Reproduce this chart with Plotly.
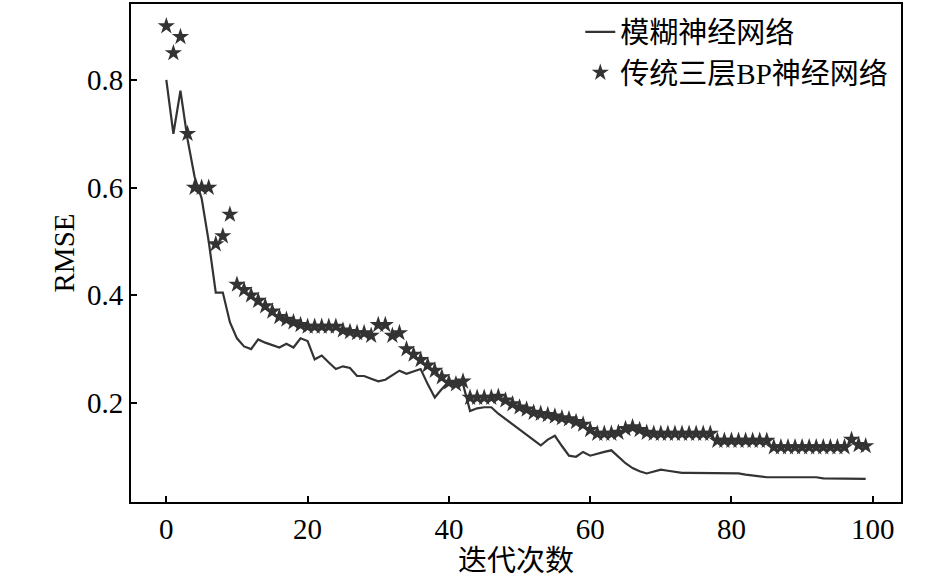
import plotly.graph_objects as go

# iteration index
iters = list(range(100))

# RMSE of fuzzy neural network (line)
fuzzy_rmse = [
    0.800, 0.700, 0.780, 0.690, 0.620, 0.580, 0.500, 0.405, 0.405, 0.350,
    0.320, 0.305, 0.300, 0.318, 0.312, 0.308, 0.303, 0.310, 0.303, 0.320,
    0.315, 0.281, 0.288, 0.275, 0.263, 0.268, 0.265, 0.250, 0.250, 0.245,
    0.240, 0.243, 0.252, 0.260, 0.254, 0.258, 0.263, 0.235, 0.210, 0.226,
    0.240, 0.240, 0.235, 0.185, 0.190, 0.192, 0.192, 0.180, 0.170, 0.160,
    0.150, 0.140, 0.130, 0.121, 0.132, 0.139, 0.120, 0.102, 0.100, 0.109,
    0.102, 0.106, 0.109, 0.112, 0.100, 0.088, 0.079, 0.073, 0.069, 0.072,
    0.076, 0.074, 0.072, 0.070, 0.070, 0.070, 0.070, 0.070, 0.070, 0.070,
    0.070, 0.069, 0.067, 0.065, 0.063, 0.062, 0.062, 0.062, 0.062, 0.062,
    0.062, 0.062, 0.062, 0.060, 0.060, 0.060, 0.060, 0.060, 0.060, 0.059,
]

# RMSE of traditional 3-layer BP network (stars)
bp_rmse = [
    0.900, 0.850, 0.880, 0.700, 0.600, 0.600, 0.600, 0.495, 0.510, 0.550,
    0.420, 0.410, 0.400, 0.390, 0.380, 0.370, 0.360, 0.355, 0.350, 0.345,
    0.342, 0.342, 0.342, 0.342, 0.342, 0.335, 0.332, 0.330, 0.330, 0.325,
    0.345, 0.345, 0.325, 0.330, 0.300, 0.290, 0.280, 0.270, 0.260, 0.248,
    0.238, 0.235, 0.240, 0.210, 0.210, 0.210, 0.210, 0.212, 0.205, 0.198,
    0.192, 0.188, 0.182, 0.180, 0.178, 0.175, 0.172, 0.170, 0.165, 0.160,
    0.150, 0.143, 0.143, 0.143, 0.145, 0.152, 0.155, 0.150, 0.145, 0.143,
    0.143, 0.143, 0.143, 0.143, 0.143, 0.143, 0.143, 0.143, 0.130, 0.130,
    0.130, 0.130, 0.130, 0.130, 0.130, 0.130, 0.118, 0.118, 0.118, 0.118,
    0.118, 0.118, 0.118, 0.118, 0.118, 0.118, 0.118, 0.132, 0.122, 0.120,
]

x_ticks = [0, 20, 40, 60, 80, 100]
y_ticks = [0.2, 0.4, 0.6, 0.8]

FONT = "Liberation Serif, Times New Roman, Noto Sans CJK SC, serif"
INK = "#333333"

fig = go.Figure()
fig.add_trace(go.Scatter(
    x=iters, y=fuzzy_rmse, mode="lines", name="模糊神经网络",
    line=dict(color=INK, width=2.2),
))
fig.add_trace(go.Scatter(
    x=iters, y=bp_rmse, mode="markers", name="传统三层BP神经网络",
    marker=dict(symbol="star", size=13, color=INK, line=dict(width=0)),
))

axis_common = dict(
    showline=True, linecolor="black", linewidth=2, mirror=True,
    ticks="inside", ticklen=6, tickwidth=1.5, tickcolor="black",
    showgrid=False, zeroline=False,
    tickfont=dict(family=FONT, size=29, color="black"),
)

fig.update_xaxes(
    range=[-5, 104], tickvals=x_ticks,
    title=dict(text="迭代次数", font=dict(family=FONT, size=29, color="black"),
               standoff=2),
    **axis_common,
)
fig.update_yaxes(
    range=[0.016, 0.941], tickvals=y_ticks, ticktext=[f"{v:.1f}" for v in y_ticks],
    title=dict(text="RMSE", font=dict(family=FONT, size=29, color="black"),
               standoff=4),
    **axis_common,
)

fig.update_layout(
    width=945, height=580,
    margin=dict(l=131, r=44, t=2, b=78),
    plot_bgcolor="white", paper_bgcolor="white",
    font=dict(family=FONT, color="black"),
    legend=dict(
        x=0.99, y=0.995, xanchor="right", yanchor="top",
        bgcolor="rgba(0,0,0,0)", borderwidth=0,
        font=dict(family=FONT, size=29, color="black"),
    ),
)

# drop the default page margin so the figure sits at the window corner
fig.write_html(
    "out.html",
    config={"displayModeBar": False},
    post_script="document.body.style.margin='0';",
)
